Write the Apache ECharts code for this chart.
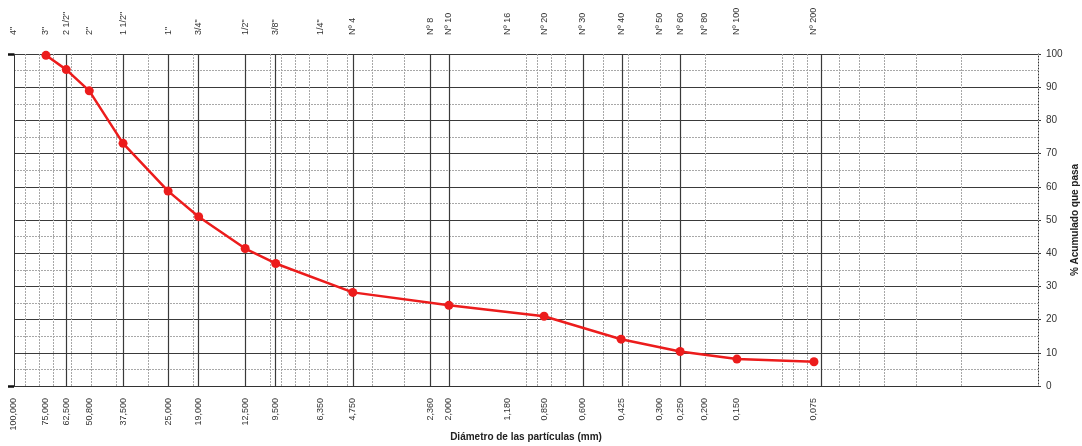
<!DOCTYPE html>
<html>
<head>
<meta charset="utf-8">
<script src="https://cdn.jsdelivr.net/npm/echarts@6/dist/echarts.min.js"></script>
<style>
  html, body { margin: 0; padding: 0; background: #ffffff; overflow: hidden; }
  #chart { width: 1082px; height: 446px; }
</style>
</head>
<body>
<div id="chart"></div>
<script>
// Sieve openings (mm) and their names / printed values
const sieveSizes = [100, 75, 62.5, 50.8, 37.5, 25, 19, 12.5, 9.5, 6.35, 4.75, 2.36, 2.0, 1.18, 0.85, 0.6, 0.425, 0.3, 0.25, 0.2, 0.15, 0.075];
const sieveNames = ['4"', '3"', '2 1/2"', '2"', '1 1/2"', '1"', '3/4"', '1/2"', '3/8"', '1/4"', 'Nº 4', 'Nº 8', 'Nº 10', 'Nº 16', 'Nº 20', 'Nº 30', 'Nº 40', 'Nº 50', 'Nº 60', 'Nº 80', 'Nº 100', 'Nº 200'];
const sizeLabels = ['100,000', '75,000', '62,500', '50,800', '37,500', '25,000', '19,000', '12,500', '9,500', '6,350', '4,750', '2,360', '2,000', '1,180', '0,850', '0,600', '0,425', '0,300', '0,250', '0,200', '0,150', '0,075'];

// Grading curve: particle diameter (mm) vs cumulative % passing
const curveSizes = [75, 62.5, 50.8, 37.5, 25, 19, 12.5, 9.5, 4.75, 2.0, 0.85, 0.425, 0.25, 0.15, 0.075];
const curvePassing = [99.6, 95.3, 88.9, 73.1, 58.7, 51.0, 41.4, 36.9, 28.2, 24.3, 21.0, 14.1, 10.4, 8.1, 7.3];

// Heavier vertical rules drawn at these sieve openings
const heavySieves = [62.5, 37.5, 25, 19, 12.5, 9.5, 4.75, 2.36, 2.0, 0.6, 0.425, 0.25, 0.075];

// Light log-paper rules: 1..9 x each decade between 0.01 and 100 mm
const logRules = [];
for (let e = -2; e <= 1; e++) {
  for (let m = 1; m <= 9; m++) logRules.push(+(m * Math.pow(10, e)).toPrecision(3));
}

const labelOf = (arr) => (v) => {
  let best = 0, bd = Infinity;
  sieveSizes.forEach((s, i) => { const d = Math.abs(Math.log(s) - Math.log(v)); if (d < bd) { bd = d; best = i; } });
  return arr[best];
};

const FONT = 'Liberation Sans';
const chart = echarts.init(document.getElementById('chart'), null, { renderer: 'canvas' });

const ruleLines = [];
logRules.forEach(v => ruleLines.push({ xAxis: v, lineStyle: { color: '#a8a8a8', width: 1, type: [2, 1] } }));
heavySieves.forEach(v => ruleLines.push({ xAxis: v, lineStyle: { color: '#3a3a3a', width: 1.2, type: 'solid' } }));

chart.setOption({
  animation: false,
  backgroundColor: '#ffffff',
  grid: { left: 14, right: 44, top: 54, bottom: 60, containLabel: false, outerBoundsMode: 'none' },
  xAxis: [
    {
      type: 'log', logBase: 10, min: 0.01, max: 100, inverse: true, position: 'bottom',
      name: 'Diámetro de las partículas (mm)', nameLocation: 'middle', nameGap: 46, nameMoveOverlap: false,
      nameTextStyle: { fontFamily: FONT, fontSize: 10, fontWeight: 'bold', color: '#222' },
      axisLine: { show: true, lineStyle: { color: '#333', width: 1 } },
      axisTick: { show: false },
      splitLine: { show: false },
      axisLabel: {
        customValues: sieveSizes, rotate: 90, margin: 12,
        fontFamily: FONT, fontSize: 9, color: '#333',
        formatter: labelOf(sizeLabels)
      }
    },
    {
      type: 'log', logBase: 10, min: 0.01, max: 100, inverse: true, position: 'top',
      axisLine: { show: true, lineStyle: { color: '#333', width: 1 } },
      axisTick: { show: false },
      splitLine: { show: false },
      axisLabel: {
        customValues: sieveSizes, rotate: 90, margin: 19,
        fontFamily: FONT, fontSize: 9, color: '#333',
        formatter: labelOf(sieveNames)
      }
    }
  ],
  yAxis: [
    {
      type: 'value', min: 0, max: 100, interval: 10, position: 'right',
      name: '% Acumulado que pasa', nameLocation: 'middle', nameGap: 32, nameRotate: 90, nameMoveOverlap: false,
      nameTextStyle: { fontFamily: FONT, fontSize: 10, fontWeight: 'bold', color: '#222' },
      axisLine: { show: true, lineStyle: { color: '#333', width: 1 } },
      axisTick: { show: true, length: 3, lineStyle: { color: '#333' } },
      axisLabel: { margin: 8, fontFamily: FONT, fontSize: 10, color: '#333' },
      splitLine: { show: true, lineStyle: { color: '#3a3a3a', width: 1.2 } },
      minorTick: { show: false, splitNumber: 2 },
      minorSplitLine: { show: true, lineStyle: { color: '#a8a8a8', width: 1, type: [2, 1] } }
    },
    {
      type: 'value', min: 0, max: 100, interval: 100, position: 'left',
      axisLine: { show: true, lineStyle: { color: '#333', width: 1 } },
      axisTick: { show: true, length: 6, lineStyle: { color: '#111', width: 2.5 } },
      axisLabel: { show: false },
      splitLine: { show: false }
    }
  ],
  series: [
    {
      type: 'line', silent: true, xAxisIndex: 0, yAxisIndex: 0, data: [], symbol: 'none',
      markLine: { silent: true, symbol: 'none', label: { show: false }, animation: false, data: ruleLines }
    },
    {
      type: 'line', xAxisIndex: 0, yAxisIndex: 0, z: 5,
      data: curveSizes.map((s, i) => [s, curvePassing[i]]),
      lineStyle: { color: '#ec1c1c', width: 2.5 },
      itemStyle: { color: '#ec1c1c' },
      symbol: 'circle', symbolSize: 9, showSymbol: true
    }
  ]
});
</script>
</body>
</html>
